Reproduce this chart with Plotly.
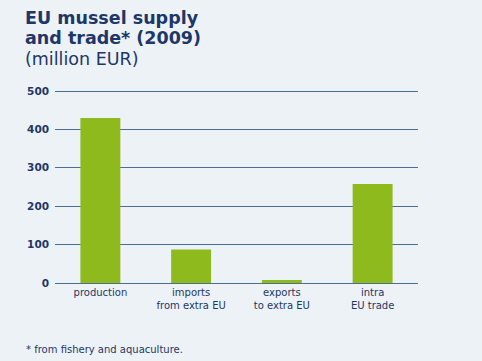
import plotly.graph_objects as go

categories = ["production", "imports<br>from extra EU", "exports<br>to extra EU", "intra<br>EU trade"]
values = [430, 87, 8, 258]
y_ticks = [0, 100, 200, 300, 400, 500]
title_lines = ["<b>EU mussel supply</b>", "<b>and trade* (2009)</b>", "(million EUR)"]
footnote = "* from fishery and aquaculture."

W, H = 482, 361
navy = "#1D3768"
bar_color = "#8FBA1E"
grid_color = "#4F6D92"
FONT = "DejaVu Sans"

fig = go.Figure(go.Bar(x=categories, y=values, marker_color=bar_color,
                       marker_line_width=0, width=0.44))

L, R, T, B = 55, 418, 89, 283
ymax = 500 * (B - T) / (B - 91)
fig.update_layout(
    width=W, height=H,
    margin=dict(l=L, r=W - R, t=T, b=H - B),
    paper_bgcolor="#EDF2F6", plot_bgcolor="rgba(0,0,0,0)",
    showlegend=False,
    font=dict(family=FONT, color=navy),
    xaxis=dict(range=[-0.5, 3.5], showgrid=False, showline=False, zeroline=False,
               tickfont=dict(size=10, color=navy, family=FONT), ticks="",
               ticklabelstandoff=2),
    yaxis=dict(range=[0, ymax], tickvals=y_ticks, showgrid=True, gridcolor=grid_color,
               gridwidth=1, zeroline=True, zerolinecolor=grid_color, zerolinewidth=1,
               showline=False, ticks="",
               tickfont=dict(size=10.5, color=navy, family=FONT, weight="bold"),
               ticklabelstandoff=5),
    bargap=0.5,
)


def py(pix):
    return (B - pix) / (B - T)


for line, ypix in zip(title_lines, [18, 38, 59]):
    fig.add_annotation(text=line, xref="paper", yref="paper", x=(23 - L) / (R - L), y=py(ypix),
                       xanchor="left", yanchor="middle", showarrow=False, align="left",
                       font=dict(size=17.5, color=navy, family=FONT))
fig.add_annotation(text=footnote,
                   xref="paper", yref="paper", x=(24 - L) / (R - L), y=py(349),
                   xanchor="left", yanchor="middle", showarrow=False, align="left",
                   font=dict(size=10, color=navy, family=FONT))
fig.write_html("out.html")
